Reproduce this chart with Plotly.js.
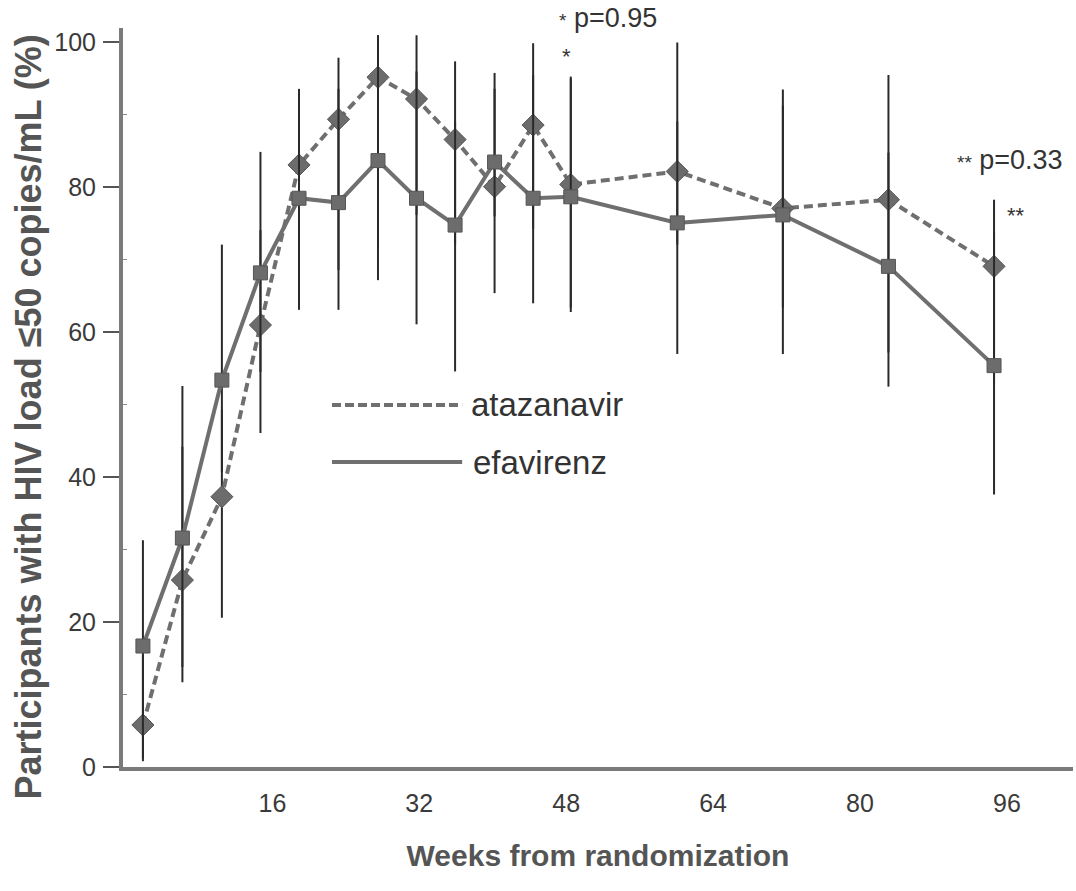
<!DOCTYPE html>
<html>
<head>
<meta charset="utf-8">
<script src="https://cdn.plot.ly/plotly-3.0.1.min.js"></script>
<style>html,body{margin:0;padding:0;background:#fff;}#chart{width:1076px;height:891px;}</style>
</head>
<body>
<div id="chart"></div>
<script>
// Weeks
const weeks = [1.9, 6.2, 10.5, 14.7, 18.9, 23.2, 27.5, 31.7, 35.9, 40.2, 44.4, 48.5, 60.1, 71.6, 83.1, 94.6];
// efavirenz (solid, squares)
const efavirenz = [16.7, 31.6, 53.4, 68.2, 78.5, 77.9, 83.7, 78.5, 74.8, 83.5, 78.5, 78.7, 75.1, 76.2, 69.1, 55.4];
const efavirenzLow = [0.8, 13.8, 40.7, 54.5, 63.1, 63.1, 67.2, 61.1, 54.6, 76.0, 64.0, 62.8, 57.0, 57.0, 52.5, 37.6];
const efavirenzHigh = [31.3, 52.6, 72.1, 84.9, 93.6, 93.6, 101, 96.0, 89.1, 95.8, 95.5, 95.0, 100, 93.5, 84.8, 73.9];
// atazanavir (dashed, diamonds)
const atazanavir = [5.8, 25.8, 37.3, 61.0, 83.1, 89.4, 95.2, 92.2, 86.6, 80.1, 88.6, 80.4, 82.2, 77.1, 78.3, 69.1];
const atazanavirLow = [1.2, 11.7, 20.6, 46.1, 67.7, 68.6, 71.8, 76.2, 72.1, 65.4, 74.3, 63.4, 72.1, 63.4, 57.2, 53.0];
const atazanavirHigh = [15.5, 44.2, 49.3, 74.1, 91.5, 97.9, 101, 101, 97.4, 93.6, 99.9, 95.3, 89.1, 91.3, 95.5, 78.3];
const xTicks = [16, 32, 48, 64, 80, 96];
const yTicks = [0, 20, 40, 60, 80, 100];
const yMinor = [10, 30, 50, 70, 90];

const up = (hi, v) => hi.map((h, i) => h - v[i]);
const dn = (lo, v) => lo.map((l, i) => v[i] - l);

const FONT = 'Liberation Sans, Arial, Helvetica, sans-serif';
const LINEC = '#6f6f6f';

const traces = [
  {
    x: weeks, y: atazanavir, name: 'atazanavir', type: 'scatter', mode: 'lines+markers',
    line: {color: LINEC, width: 4, dash: '9px,5px'},
    marker: {symbol: 'diamond', size: 17, color: '#6c6c6c', line: {color: '#555', width: 1}},
    error_y: {type: 'data', symmetric: false, array: up(atazanavirHigh, atazanavir), arrayminus: dn(atazanavirLow, atazanavir),
              width: 0, thickness: 2, color: '#2a2a2a'}
  },
  {
    x: weeks, y: efavirenz, name: 'efavirenz', type: 'scatter', mode: 'lines+markers',
    line: {color: LINEC, width: 4},
    marker: {symbol: 'square', size: 14, color: '#6c6c6c', line: {color: '#555', width: 1}},
    error_y: {type: 'data', symmetric: false, array: up(efavirenzHigh, efavirenz), arrayminus: dn(efavirenzLow, efavirenz),
              width: 0, thickness: 2, color: '#2a2a2a'}
  }
];

const layout = {
  width: 1076, height: 891,
  margin: {l: 123, r: 3, t: 28, b: 124},
  paper_bgcolor: '#fff', plot_bgcolor: '#fff',
  showlegend: false,
  font: {family: FONT, color: '#333'},
  xaxis: {
    range: [-0.27, 103.2], tickvals: xTicks, ticktext: xTicks.map(String),
    ticks: '', showgrid: false, zeroline: false,
    showline: true, linewidth: 4, linecolor: '#7a7a7a',
    tickfont: {family: FONT, size: 25, color: '#3a3a3a'}, ticklabelstandoff: 11,
    title: {text: 'Weeks from randomization', font: {family: FONT, size: 30, color: '#555', weight: 'bold'}, standoff: 30}
  },
  yaxis: {
    range: [0, 102], tickvals: yTicks, ticktext: yTicks.map(String),
    ticks: 'outside', ticklen: 16, tickwidth: 2, tickcolor: '#555',
    minor: {tickvals: yMinor, ticks: 'inside', ticklen: 4, tickwidth: 1, tickcolor: '#888'},
    showgrid: false, zeroline: false,
    showline: true, linewidth: 4, linecolor: '#7a7a7a',
    tickfont: {family: FONT, size: 25, color: '#3a3a3a'}, ticklabelstandoff: 2
  },
  shapes: [
    {type: 'line', xref: 'paper', yref: 'paper', x0: 0.22, x1: 0.357, y0: 0.49, y1: 0.49,
     line: {color: LINEC, width: 4, dash: '9px,4px'}},
    {type: 'line', xref: 'paper', yref: 'paper', x0: 0.22, x1: 0.357, y0: 0.4127, y1: 0.4127,
     line: {color: LINEC, width: 4}}
  ],
  annotations: [
    {xref: 'paper', yref: 'paper', x: -0.1, y: 0.473, xanchor: 'center', yanchor: 'middle', showarrow: false,
     textangle: -90, text: 'Participants with HIV load ≤50 copies/mL (%)',
     font: {family: FONT, size: 36, color: '#555', weight: 'bold'}},
    {xref: 'paper', yref: 'paper', x: 0.364, y: 0.49, xanchor: 'left', yanchor: 'middle', showarrow: false,
     text: 'atazanavir', font: {family: FONT, size: 33, color: '#333'}},
    {xref: 'paper', yref: 'paper', x: 0.366, y: 0.4127, xanchor: 'left', yanchor: 'middle', showarrow: false,
     text: 'efavirenz', font: {family: FONT, size: 33, color: '#333'}},
    {xref: 'paper', yref: 'paper', x: 0.457, y: 1.013, xanchor: 'left', yanchor: 'middle', showarrow: false,
     text: '<span style="font-size:19px">*</span> p=0.95', font: {family: FONT, size: 27, color: '#333'}},
    {xref: 'paper', yref: 'paper', x: 0.467, y: 0.962, xanchor: 'center', yanchor: 'middle', showarrow: false,
     text: '*', font: {family: FONT, size: 22, color: '#333'}},
    {xref: 'paper', yref: 'paper', x: 0.876, y: 0.821, xanchor: 'left', yanchor: 'middle', showarrow: false,
     text: '<span style="font-size:19px">**</span> p=0.33', font: {family: FONT, size: 27, color: '#333'}},
    {xref: 'paper', yref: 'paper', x: 0.94, y: 0.746, xanchor: 'center', yanchor: 'middle', showarrow: false,
     text: '**', font: {family: FONT, size: 22, color: '#333'}}
  ]
};

Plotly.newPlot('chart', traces, layout, {staticPlot: true, displayModeBar: false});
</script>
</body>
</html>
